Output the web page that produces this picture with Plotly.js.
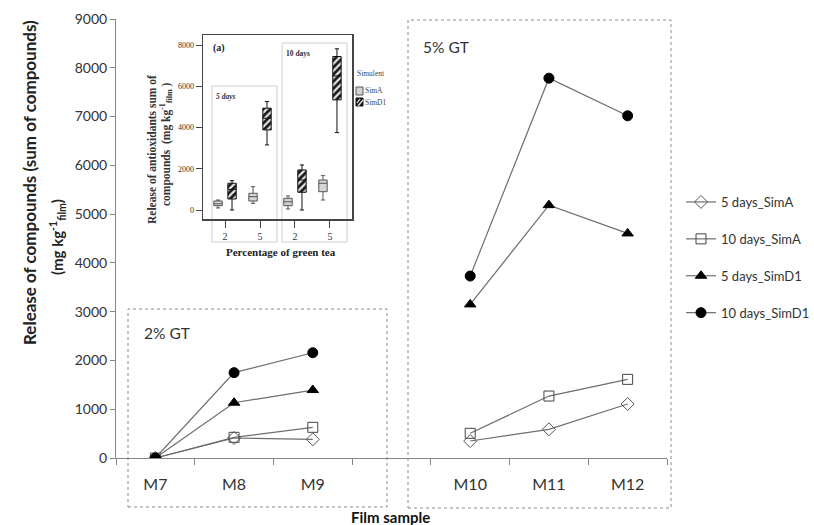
<!DOCTYPE html>
<html>
<head>
<meta charset="utf-8">
<script src="https://cdn.plot.ly/plotly-3.0.1.min.js"></script>
<style>html,body{margin:0;padding:0;background:#fff;}#chart{width:814px;height:525px;}</style>
</head>
<body>
<div id="chart"></div>
<script>
// ---- main chart data ----
var categories = ['M7', 'M8', 'M9', ' ', 'M10', 'M11', 'M12'];
var seriesNames = ['5 days_SimA', '10 days_SimA', '5 days_SimD1', '10 days_SimD1'];
var d5SimA   = [0, 410, 383, null, 348, 588, 1107];
var d10SimA  = [0, 424, 629, null, 506, 1270, 1612];
var d5SimD1  = [0, 1133, 1393, null, 3149, 5184, 4604];
var d10SimD1 = [0, 1750, 2158, null, 3730, 7787, 7015];
var yTicks = [0, 1000, 2000, 3000, 4000, 5000, 6000, 7000, 8000, 9000];

// ---- inset box-plot data ----
var insetCats = ['5d_2', '5d_5', '10d_2', '10d_5'];
var insetTickText = ['2', '5', '2', '5'];
var simA_low  = [100, 325, 50, 485];
var simA_q1   = [209, 437, 209, 888];
var simA_med  = [300, 646, 400, 1296];
var simA_q3   = [437, 811, 568, 1456];
var simA_up   = [485, 1131, 680, 1666];
var simD1_low = [0, 3155, 0, 3752];
var simD1_q1  = [534, 3883, 859, 5340];
var simD1_med = [1000, 4450, 1456, 6500];
var simD1_q3  = [1296, 4937, 1942, 7442];
var simD1_up  = [1422, 5257, 2184, 7816];
var insetYTicks = [0, 2000, 4000, 6000, 8000];

var lineColor = '#6e6e6e';
var mainFont = 'Lato, "Open Sans", sans-serif';
var serif = '"Liberation Serif", "DejaVu Serif", serif';

function lineTrace(name, y, symbol, mcolor, mline) {
  return {
    type: 'scatter', mode: 'lines+markers', name: name,
    x: categories, y: y, connectgaps: false,
    line: {color: lineColor, width: 1.2},
    marker: {symbol: symbol, size: 10, color: mcolor, line: {color: mline, width: 1}},
    legendgroup: name, xaxis: 'x', yaxis: 'y'
  };
}

var traces = [
  lineTrace(seriesNames[0], d5SimA, 'diamond-open', '#555', '#555'),
  lineTrace(seriesNames[1], d10SimA, 'square-open', '#444', '#444'),
  lineTrace(seriesNames[2], d5SimD1, 'triangle-up', '#000', '#000'),
  lineTrace(seriesNames[3], d10SimD1, 'circle', '#000', '#000')
];

// hatched fill under SimD1 boxes
traces.push({
  type: 'bar', x: insetCats, base: simD1_q1,
  y: simD1_q3.map(function (v, i) { return v - simD1_q1[i]; }),
  offset: 0.08, width: 0.24, showlegend: false, hoverinfo: 'skip',
  marker: {color: '#fff', line: {width: 0},
    pattern: {shape: '/', fgcolor: '#1a1a1a', bgcolor: '#e6e6e6', size: 5, solidity: 0.55}},
  xaxis: 'x2', yaxis: 'y2'
});
traces.push({
  type: 'box', name: 'SimA', x: insetCats,
  lowerfence: simA_low, q1: simA_q1, median: simA_med, q3: simA_q3, upperfence: simA_up,
  fillcolor: '#d4d4d4', line: {color: '#555', width: 1}, boxpoints: false,
  showlegend: false, xaxis: 'x2', yaxis: 'y2'
});
traces.push({
  type: 'box', name: 'SimD1', x: insetCats,
  lowerfence: simD1_low, q1: simD1_q1, median: simD1_med, q3: simD1_q3, upperfence: simD1_up,
  fillcolor: 'rgba(0,0,0,0)', line: {color: '#111', width: 1}, boxpoints: false,
  showlegend: false, xaxis: 'x2', yaxis: 'y2'
});

function rect(x0, y0, x1, y1, color, dash, fill) {
  return {type: 'rect', xref: 'paper', yref: 'paper', x0: x0, y0: y0, x1: x1, y1: y1,
    line: {color: color, width: 1, dash: dash || 'solid'}, fillcolor: fill || 'rgba(0,0,0,0)', layer: 'below'};
}
function seg(x0, y0, x1, y1, color, w) {
  return {type: 'line', xref: 'paper', yref: 'paper', x0: x0, y0: y0, x1: x1, y1: y1,
    line: {color: color, width: w}};
}
// pixel helpers for decoration placement
function px(v) { return (v - 116) / 551; }
function py(v) { return (458 - v) / 439; }

var shapes = [
  rect(px(128), py(507), px(387), py(309), '#8a8a8a', 'dot'),
  rect(px(408), py(508), px(671), py(20), '#8a8a8a', 'dot'),
  rect(px(212), py(242), px(277), py(86), '#cfcfcf'),
  rect(px(282), py(242), px(347), py(43), '#cfcfcf'),
  // inset legend keys
  rect(px(356), py(95), px(363), py(87), '#555', 'solid', '#d4d4d4'),
  rect(px(356), py(106), px(363), py(98), '#111', 'solid', '#1a1a1a'),
  seg(px(357), py(103), px(360), py(99), '#e6e6e6', 1.2),
  seg(px(358), py(106), px(363), py(100), '#e6e6e6', 1.2)
];
shapes.forEach(function (s) { if (s.type === 'rect' && s.fillcolor !== 'rgba(0,0,0,0)') s.layer = 'above'; });

function ann(text, x, y, opts) {
  var a = {text: text, x: x, y: y, xref: 'paper', yref: 'paper', showarrow: false,
    xanchor: 'left', yanchor: 'middle', font: {family: mainFont, size: 14, color: '#222'}};
  for (var k in opts) a[k] = opts[k];
  return a;
}

var annotations = [
  ann('Release of compounds (sum of compounds)', px(30), py(183),
      {xanchor: 'center', textangle: -90, font: {family: mainFont, size: 17, color: '#222', weight: 'bold'}}),
  ann('(mg kg<sup>-1</sup><sub>film</sub>)', px(58), py(237),
      {xanchor: 'center', textangle: -90, font: {family: mainFont, size: 15, color: '#222', weight: 'bold'}}),
  ann('Film sample', px(390), py(517),
      {xanchor: 'center', font: {family: mainFont, size: 15, color: '#111', weight: 'bold'}}),
  ann('2% GT', px(142), py(333), {font: {family: mainFont, size: 15.5, color: '#333'}}),
  ann('5% GT', px(421), py(47), {font: {family: mainFont, size: 15.5, color: '#333'}}),
  // inset texts
  ann('<b>(a)</b>', px(211), py(48), {font: {family: serif, size: 10, color: '#222'}}),
  ann('<b><i>5 days</i></b>', px(214), py(96), {font: {family: serif, size: 7.5, color: '#333'}}),
  ann('<b>10 days</b>', px(284), py(53), {font: {family: serif, size: 7.5, color: '#333'}}),
  ann('Simulent', px(355), py(73), {font: {family: serif, size: 7.5, color: '#444'}}),
  ann('SimA', px(363), py(91), {font: {family: serif, size: 7.5, color: '#444'}}),
  ann('SimD1', px(363), py(102), {font: {family: serif, size: 7.5, color: '#444'}}),
  ann('<b>Release of antioxidants sum of</b>', px(152), py(150),
      {xanchor: 'center', textangle: -90, font: {family: serif, size: 11.5, color: '#333'}}),
  ann('<b>compounds  (mg kg<sup>-1</sup><sub>film</sub> )</b>', px(166), py(144),
      {xanchor: 'center', textangle: -90, font: {family: serif, size: 11.5, color: '#333'}}),
  ann('<b>Percentage of green tea</b>', px(281), py(252),
      {xanchor: 'center', font: {family: serif, size: 11, color: '#222'}})
];

var layout = {
  width: 814, height: 525,
  margin: {l: 116, r: 147, t: 19, b: 67, pad: 0, autoexpand: false},
  paper_bgcolor: '#fff', plot_bgcolor: 'rgba(0,0,0,0)',
  showlegend: true,
  boxmode: 'group', boxgap: 0.2, boxgroupgap: 0.4,
  legend: {x: px(681), xanchor: 'left', y: py(187), yanchor: 'top',
    font: {family: mainFont, size: 13, color: '#333'}, traceorder: 'grouped',
    tracegroupgap: 17, bgcolor: 'rgba(0,0,0,0)', itemwidth: 30},
  xaxis: {type: 'category', categoryorder: 'array', categoryarray: categories,
    range: [-0.5, 6.5], tickson: 'boundaries', ticks: 'outside', ticklen: 6,
    tickcolor: '#868686', showline: true, linecolor: '#868686', linewidth: 1,
    showgrid: false, zeroline: false, ticklabelstandoff: 12, automargin: false,
    tickfont: {family: mainFont, size: 16, color: '#333'}, fixedrange: true},
  yaxis: {range: [0, 9000], tickvals: yTicks, ticks: 'outside', ticklen: 5,
    tickcolor: '#868686', showline: true, linecolor: '#868686', linewidth: 1,
    showgrid: false, zeroline: false, automargin: false,
    tickfont: {family: mainFont, size: 14, color: '#333'}, fixedrange: true},
  xaxis2: {domain: [px(203), px(352)], anchor: 'y2', type: 'category',
    categoryorder: 'array', categoryarray: insetCats, tickvals: insetCats, ticktext: insetTickText,
    range: [-0.63, 3.63], ticks: 'outside', ticklen: 7, tickcolor: '#444',
    showline: true, mirror: true, linecolor: '#444', linewidth: 1.5,
    showgrid: false, zeroline: false, tickfont: {family: serif, size: 10, color: '#333'}},
  yaxis2: {domain: [py(219), py(35)], anchor: 'x2', range: [-436, 8485],
    tickvals: insetYTicks, ticks: 'outside', ticklen: 6, tickcolor: '#444',
    showline: true, mirror: true, linecolor: '#444', linewidth: 1.5,
    showgrid: false, zeroline: false, tickfont: {family: serif, size: 8, color: '#333'}},
  shapes: shapes,
  annotations: annotations
};

Plotly.newPlot('chart', traces, layout, {displayModeBar: false, staticPlot: true});
</script>
</body>
</html>
